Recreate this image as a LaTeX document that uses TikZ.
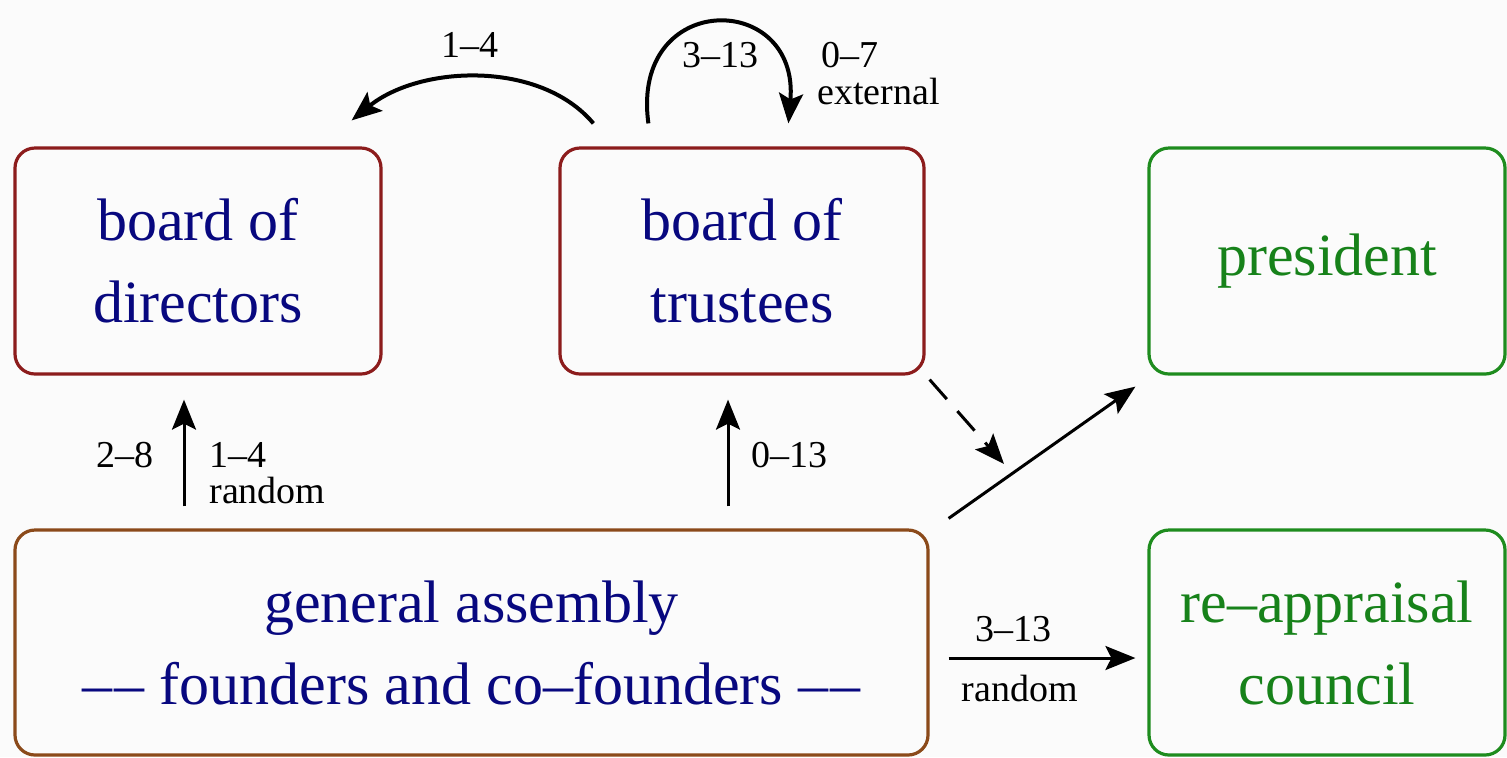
\documentclass[tikz,border=0pt]{standalone}
\usepackage{fontspec}
\setmainfont{Liberation Serif}
\usetikzlibrary{arrows.meta,calc}
\definecolor{bgc}{HTML}{FBFBFB}
\definecolor{redb}{HTML}{8C1C1C}
\definecolor{brownb}{HTML}{8B4A1A}
\definecolor{greenb}{HTML}{1E8C1E}
\definecolor{greent}{HTML}{17821A}
\definecolor{navyt}{HTML}{08087F}
\tikzset{
  box/.style={draw, line width=1.6pt, rounded corners=10pt, align=center,
    font=\fontsize{30}{41}\selectfont, inner sep=0pt},
  redbox/.style={box, draw=redb, text=navyt},
  brownbox/.style={box, draw=brownb, text=navyt},
  greenbox/.style={box, draw=greenb, text=greent},
  arr/.style={line width=1.5pt, -{Stealth[length=15pt,width=12pt,inset=3pt]}},
  curvearr/.style={line width=2pt, -{Stealth[length=15pt,width=12pt,inset=3pt]}},
  lbl/.style={font=\fontsize{19}{21}\selectfont, inner sep=0pt}
}
\begin{document}
\begin{tikzpicture}[x=0.5pt,y=-0.5pt]
\fill[bgc] (0,0) rectangle (1507,757);
\useasboundingbox (0,0) rectangle (1507,757);

\node[redbox, minimum width=183pt, minimum height=113pt] (dir) at (198,261) {board of\\directors};
\node[redbox, minimum width=182pt, minimum height=113pt] (tru) at (742,261) {board of\\trustees};
\node[greenbox, minimum width=178pt, minimum height=113pt] (pres) at (1327,261) {president};
\node[brownbox, minimum width=456.5pt, minimum height=112.5pt] (ga) at (471.5,642.5) {general assembly\\–\kern1pt– founders and co–founders –\kern1pt–};
\node[greenbox, minimum width=178pt, minimum height=112.5pt] (rac) at (1327,642.5) {re–appraisal\\council};

% arc from trustees to directors
\draw[curvearr] ($(tru.north west)+(35,-23)$) .. controls (540,60) and (420,65) .. ($(dir.north east)+(-31,-26)$);
\node[lbl] (l14a) at (470,45) {1–4};

% self loop on trustees
\draw[curvearr] ($(tru.north west)+(90,-23)$) .. controls (630,-10) and (800,-10) .. ($(tru.north west)+(230,-23)$);
\node[lbl] (l313a) at (720,55) {3–13};
\node[lbl, anchor=west] (l07) at (821,55) {0–7};
\node[lbl, anchor=west] (lext) at (817,91) {external};

% up arrows
\draw[arr] ($(ga.north)+(-287.5,-22)$) -- ($(dir.south)+(-14,24)$);
\node[lbl] (l28) at (125,455) {2–8};
\node[lbl, anchor=west] (l14b) at (209,455) {1–4};
\node[lbl, anchor=west] (lrand1) at (209,490) {random};

\draw[arr] ($(ga.north)+(256.5,-22)$) -- ($(tru.south)+(-14,24)$);
\node[lbl, anchor=west] (l013) at (751,455) {0–13};

% diagonal to president
\draw[arr] ($(ga.north east)+(19,-10)$) -- ($(pres.south west)+(-12,11)$);
% dashed from trustees
\coordinate (dtip) at (1004,464);
\draw[arr, dashed, dash pattern=on 13pt off 8pt] ($(tru.south east)+(4,4)$) -- (dtip);

% horizontal to re-appraisal council
\draw[arr] ($(ga.east)+(19,15.5)$) -- ($(rac.west)+(-12,15.5)$);
\node[lbl] (l313b) at (1013,629) {3–13};
\node[lbl] (lrand2) at (1020,688) {random};
\end{tikzpicture}
\end{document}
